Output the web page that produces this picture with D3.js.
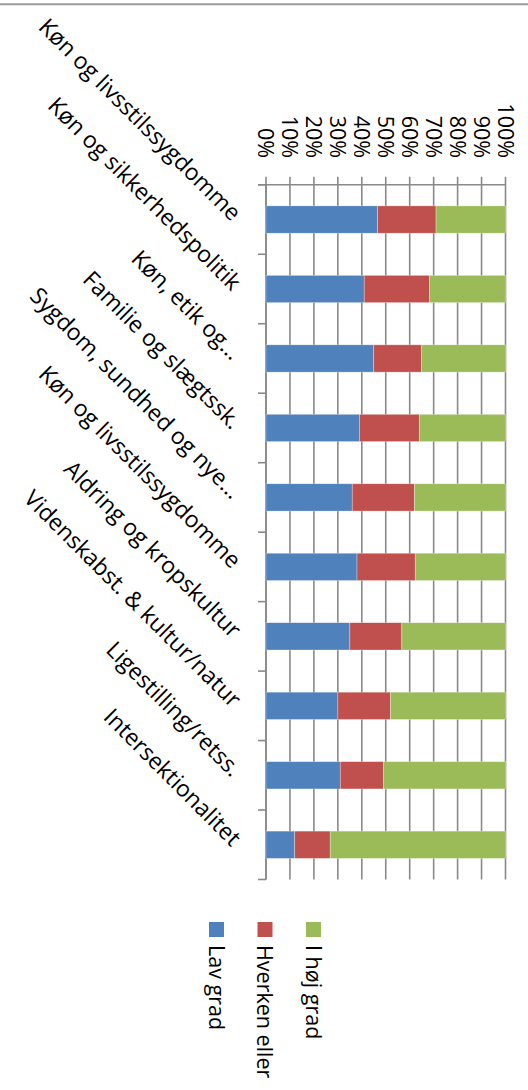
<!DOCTYPE html>
<html>
<head>
<meta charset="utf-8">
<script src="https://cdn.jsdelivr.net/npm/d3@7"></script>
<style>
  html, body { margin: 0; padding: 0; background: #fff; }
  svg { display: block; }
  text { font-family: "Open Sans", "Liberation Sans", sans-serif; fill: #000; }
</style>
</head>
<body>
<svg id="chart" width="528" height="1090"></svg>
<script>
const categories = [
  "Køn og livsstilssygdomme",
  "Køn og sikkerhedspolitik",
  "Køn, etik og…",
  "Familie og slægtssk.",
  "Sygdom, sundhed og nye…",
  "Køn og livsstilssygdomme",
  "Aldring og kropskultur",
  "Videnskabst. & kultur/natur",
  "Ligestilling/retss.",
  "Intersektionalitet"
];
const seriesNames = ["Lav grad", "Hverken eller", "I høj grad"];
const lavGrad      = [46.6, 41.0, 45.0, 39.0, 36.0, 38.0, 35.0, 30.0, 31.0, 12.0];
const hverkenEller = [24.4, 27.3, 20.0, 25.0, 26.0, 24.3, 21.7, 22.0, 18.0, 14.8];
const iHojGrad     = [29.0, 31.7, 35.0, 36.0, 38.0, 37.7, 43.3, 48.0, 51.0, 73.2];
const tickLabels = ["0%","10%","20%","30%","40%","50%","60%","70%","80%","90%","100%"];
const colors = ["#4F81BD", "#C0504D", "#9BBB59"];

const svg = d3.select("#chart");

// top border line
svg.append("line").attr("x1", 0).attr("x2", 528).attr("y1", 4.3).attr("y2", 4.3)
  .attr("stroke", "#9a9a9a").attr("stroke-width", 2);

const x0 = 266, x1 = 505.5, yTop = 184.8, yBot = 879.5;
const x = d3.scaleLinear().domain([0, 1]).range([x0, x1]);
const y = d3.scaleBand().domain(d3.range(categories.length)).range([yTop, yBot]).padding(0);
const barW = y.step() * 0.393;

const rows = categories.map((c, i) => ({
  i,
  a: lavGrad[i], b: hverkenEller[i], c: iHojGrad[i]
}));
const stack = d3.stack().keys(["a", "b", "c"]).offset(d3.stackOffsetExpand);
const stacked = stack(rows);

const grid = "#898989";
// gridlines (with outward tick extension)
svg.append("g").selectAll("line").data(d3.range(0, 1.0001, 0.1)).join("line")
  .attr("x1", d => x(d)).attr("x2", d => x(d))
  .attr("y1", yTop - 8).attr("y2", yBot)
  .attr("stroke", grid).attr("stroke-width", 1.6);

// value axis line (top)
svg.append("line").attr("x1", x0 - 8).attr("x2", x1).attr("y1", yTop).attr("y2", yTop)
  .attr("stroke", grid).attr("stroke-width", 1.6);

// category axis line and ticks
svg.append("line").attr("x1", x0).attr("x2", x0).attr("y1", yTop).attr("y2", yBot)
  .attr("stroke", grid).attr("stroke-width", 1.6);
svg.append("g").selectAll("line").data(d3.range(categories.length + 1)).join("line")
  .attr("x1", x0 - 8).attr("x2", x0)
  .attr("y1", d => yTop + d * y.step()).attr("y2", d => yTop + d * y.step())
  .attr("stroke", grid).attr("stroke-width", 1.6);

// bars
svg.append("g").selectAll("g").data(stacked).join("g")
  .attr("fill", (d, k) => colors[k])
  .selectAll("rect").data(d => d).join("rect")
  .attr("x", d => x(d[0]))
  .attr("width", d => x(d[1]) - x(d[0]))
  .attr("y", d => y(d.data.i) + (y.step() - barW) / 2)
  .attr("height", barW)
  .attr("stroke", "#ffffff").attr("stroke-opacity", 0.5).attr("stroke-width", 0.6);

// value tick labels (rotated 90)
svg.append("g").selectAll("text").data(tickLabels).join("text")
  .attr("transform", (d, k) => `translate(${x(k / 10)},158) rotate(90)`)
  .attr("text-anchor", "end")
  .attr("dy", "0.35em")
  .style("font-size", "21.5px")
  .text(d => d);

// category labels (rotated 45)
svg.append("g").selectAll("text").data(categories).join("text")
  .attr("transform", (d, k) => `translate(237,${y(k) + y.step() / 2 - 3}) rotate(45)`)
  .attr("text-anchor", "end")
  .attr("dy", "0.35em")
  .style("font-size", "23px")
  .text(d => d);

// legend
const lg = svg.append("g").selectAll("g").data(seriesNames).join("g")
  .attr("transform", (d, k) => `translate(${216.5 + k * 48.5},0)`);
lg.append("rect").attr("x", -7.5).attr("y", 922).attr("width", 15).attr("height", 15)
  .attr("fill", (d, k) => colors[k]);
lg.append("text")
  .attr("transform", "translate(0,945) rotate(90)")
  .attr("dy", "0.35em")
  .style("font-size", "21.5px")
  .text(d => d);
</script>
</body>
</html>
